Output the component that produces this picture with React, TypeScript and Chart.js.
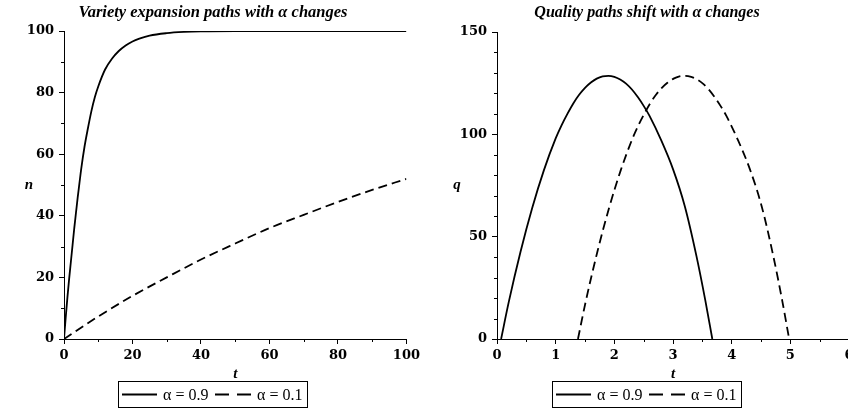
import React, { useEffect, useRef } from 'react';
import { Chart, registerables } from 'chart.js';

Chart.register(...registerables);

// ---- Data ----
// Left panel: variety expansion n(t)
const varietyHighT = [0, 0.5, 1, 1.5, 2, 2.5, 3, 3.5, 4, 4.5, 5, 6, 7, 8, 9, 10, 12, 14, 16, 18, 20, 22, 25, 30, 35, 40, 50, 60, 80, 100];
const varietyHighN = [0, 7, 13.5, 19.5, 25, 30.5, 36, 41, 46, 50.5, 55, 62.5, 68.5, 74, 78.5, 82, 87.5, 91, 93.5, 95.3, 96.6, 97.5, 98.5, 99.3, 99.7, 99.9, 100, 100, 100, 100];
const varietyLowT = [0, 10, 20, 30, 40, 50, 60, 70, 80, 90, 100];
const varietyLowN = [0, 7.3, 14, 20, 25.8, 31, 36, 40.3, 44.5, 48.4, 52];

// Right panel: quality paths q(t)
const qualityHighT = [0.07, 0.2, 0.4, 0.6, 0.8, 1.0, 1.1, 1.2, 1.3, 1.4, 1.5, 1.6, 1.7, 1.8, 1.9, 2.0, 2.1, 2.2, 2.3, 2.4, 2.5, 2.6, 2.8, 3.0, 3.2, 3.4, 3.55, 3.67];
const qualityHighQ = [0, 18, 42.5, 64, 82.5, 98, 104.4, 110, 115.1, 119.3, 122.7, 125.3, 127.2, 128.3, 128.6, 128.1, 126.8, 124.8, 121.9, 118.2, 113.9, 109, 97, 83, 65, 40.5, 19, 0];
const qualityLowT = [1.38, 1.51, 1.71, 1.91, 2.11, 2.31, 2.41, 2.51, 2.61, 2.71, 2.81, 2.91, 3.01, 3.11, 3.21, 3.31, 3.41, 3.51, 3.61, 3.71, 3.81, 3.91, 4.11, 4.31, 4.51, 4.71, 4.86, 4.98];
const qualityLowQ = [0, 18, 42.5, 64, 82.5, 98, 104.4, 110, 115.1, 119.3, 122.7, 125.3, 127.2, 128.3, 128.6, 128.1, 126.8, 124.8, 121.9, 118.2, 113.9, 109, 97, 83, 65, 40.5, 19, 0];

// Labels
const leftTitle = 'Variety expansion paths with \u03b1 changes';
const rightTitle = 'Quality paths shift with \u03b1 changes';
const legendLabels = ['\u03b1 = 0.9', '\u03b1 = 0.1'];
const leftYLabel = 'n';
const rightYLabel = 'q';
const xLabel = 't';

const toPoints = (xs: number[], ys: number[]) => xs.map((x, i) => ({ x, y: ys[i] }));

const TICK_FONT = { family: '"DejaVu Serif", serif', size: 13, weight: 'bold' as const };

const decorPlugin = {
  id: 'decor',
  afterDraw(chart: any, _args: any, o: any) {
    const ctx = chart.ctx as CanvasRenderingContext2D;
    const xs = chart.scales.x;
    const ys = chart.scales.y;
    const area = chart.chartArea;
    ctx.save();
    ctx.strokeStyle = '#000';
    ctx.fillStyle = '#000';
    ctx.lineWidth = 1;
    ctx.setLineDash([]);

    const minorLen = 3;
    const isMajor = (v: number, m: number) => Math.abs(v / m - Math.round(v / m)) < 1e-6;
    const nx = Math.round((xs.max - xs.min) / o.xMinor);
    for (let i = 0; i <= nx; i++) {
      const v = xs.min + i * o.xMinor;
      if (isMajor(v, o.xMajor)) continue;
      const px = Math.round(xs.getPixelForValue(v)) + 0.5;
      ctx.beginPath();
      ctx.moveTo(px, area.bottom);
      ctx.lineTo(px, area.bottom + minorLen);
      ctx.stroke();
    }
    const ny = Math.round((ys.max - ys.min) / o.yMinor);
    for (let i = 0; i <= ny; i++) {
      const v = ys.min + i * o.yMinor;
      if (isMajor(v, o.yMajor)) continue;
      const py = Math.round(ys.getPixelForValue(v)) + 0.5;
      ctx.beginPath();
      ctx.moveTo(area.left, py);
      ctx.lineTo(area.left - minorLen, py);
      ctx.stroke();
    }

    // title
    ctx.font = `bold italic ${o.titleSize}px "Liberation Serif", serif`;
    ctx.textAlign = 'center';
    ctx.textBaseline = 'middle';
    ctx.fillText(o.title, o.titleX, 13);

    // axis labels
    ctx.font = 'bold italic 15px "Liberation Serif", serif';
    ctx.fillText(o.yLabel, o.yLabelX, (area.top + area.bottom) / 2);
    ctx.fillText(o.xLabel, (area.left + area.right) / 2, 374);

    // legend
    const lx = o.legendX;
    const ly = 381;
    const lw = 189;
    const lh = 26;
    ctx.lineWidth = 1;
    ctx.strokeRect(lx + 0.5, ly + 0.5, lw, lh);
    const cy = ly + lh / 2 + 0.5;
    ctx.lineWidth = 1.8;
    ctx.beginPath();
    ctx.moveTo(lx + 4, cy);
    ctx.lineTo(lx + 39, cy);
    ctx.stroke();
    ctx.setLineDash([14, 8]);
    ctx.beginPath();
    ctx.moveTo(lx + 97, cy);
    ctx.lineTo(lx + 133, cy);
    ctx.stroke();
    ctx.setLineDash([]);
    ctx.font = '16px "Liberation Serif", serif';
    ctx.textAlign = 'left';
    ctx.fillText(o.labels[0], lx + 45, cy + 1);
    ctx.fillText(o.labels[1], lx + 139, cy + 1);

    ctx.restore();
  },
};

function makeConfig(opts: any) {
  const curve = { cubicInterpolationMode: 'monotone' as const };
  return {
    type: 'line' as const,
    data: {
      datasets: [
        {
          label: legendLabels[0],
          data: opts.solid,
          borderColor: '#000',
          borderWidth: 1.8,
          pointRadius: 0,
          fill: false,
          ...curve,
        },
        {
          label: legendLabels[1],
          data: opts.dashed,
          borderColor: '#000',
          borderWidth: 1.8,
          borderDash: [9, 5],
          pointRadius: 0,
          fill: false,
          ...curve,
        },
      ],
    },
    options: {
      responsive: false,
      animation: false as const,
      devicePixelRatio: 1,
      layout: { padding: opts.padding },
      plugins: {
        legend: { display: false },
        tooltip: { enabled: false },
        title: { display: false },
        decor: opts.decor,
      },
      scales: {
        x: {
          type: 'linear' as const,
          min: opts.xMin,
          max: opts.xMax,
          ticks: {
            stepSize: opts.xStep,
            color: '#000',
            font: TICK_FONT,
            padding: 4,
            autoSkip: false,
            maxRotation: 0,
          },
          grid: { drawOnChartArea: false, drawTicks: true, tickLength: 5, color: '#000', lineWidth: 1 },
          border: { display: true, color: '#000', width: 1 },
          afterFit: (s: any) => {
            s.height = opts.xAxisHeight;
          },
        },
        y: {
          type: 'linear' as const,
          min: opts.yMin,
          max: opts.yMax,
          ticks: {
            stepSize: opts.yStep,
            color: '#000',
            font: TICK_FONT,
            padding: 5,
          },
          grid: { drawOnChartArea: false, drawTicks: true, tickLength: 5, color: '#000', lineWidth: 1 },
          border: { display: true, color: '#000', width: 1 },
          afterFit: (s: any) => {
            s.width = opts.yAxisWidth;
          },
        },
      },
    },
    plugins: [decorPlugin],
  };
}

export default function App() {
  const leftRef = useRef<HTMLCanvasElement | null>(null);
  const rightRef = useRef<HTMLCanvasElement | null>(null);

  useEffect(() => {
    const left = new Chart(
      leftRef.current as HTMLCanvasElement,
      makeConfig({
        solid: toPoints(varietyHighT, varietyHighN),
        dashed: toPoints(varietyLowT, varietyLowN),
        xMin: 0,
        xMax: 100,
        xStep: 20,
        yMin: 0,
        yMax: 100,
        yStep: 20,
        padding: { left: 0, top: 31, right: 17, bottom: 0 },
        xAxisHeight: 73,
        yAxisWidth: 64,
        decor: {
          xMinor: 10,
          xMajor: 20,
          yMinor: 10,
          yMajor: 20,
          title: leftTitle,
          titleX: 213,
          titleSize: 16.5,
          yLabel: leftYLabel,
          yLabelX: 29,
          xLabel: xLabel,
          legendX: 118,
          labels: legendLabels,
        },
      }) as any
    );
    const right = new Chart(
      rightRef.current as HTMLCanvasElement,
      makeConfig({
        solid: toPoints(qualityHighT, qualityHighQ),
        dashed: toPoints(qualityLowT, qualityLowQ),
        xMin: 0,
        xMax: 6,
        xStep: 1,
        yMin: 0,
        yMax: 150,
        yStep: 50,
        padding: { left: 0, top: 32, right: 25, bottom: 0 },
        xAxisHeight: 73,
        yAxisWidth: 73,
        decor: {
          xMinor: 0.5,
          xMajor: 1,
          yMinor: 10,
          yMajor: 50,
          title: rightTitle,
          titleX: 223,
          titleSize: 16,
          yLabel: rightYLabel,
          yLabelX: 33,
          xLabel: xLabel,
          legendX: 128,
          labels: legendLabels,
        },
      }) as any
    );
    return () => {
      left.destroy();
      right.destroy();
    };
  }, []);

  return (
    <div
      style={{
        position: 'fixed',
        left: 0,
        top: 0,
        width: 848,
        height: 412,
        overflow: 'hidden',
        background: '#fff',
      }}
    >
      <canvas ref={leftRef} width={424} height={412} style={{ position: 'absolute', left: 0, top: 0 }} />
      <canvas ref={rightRef} width={450} height={412} style={{ position: 'absolute', left: 424, top: 0 }} />
    </div>
  );
}
